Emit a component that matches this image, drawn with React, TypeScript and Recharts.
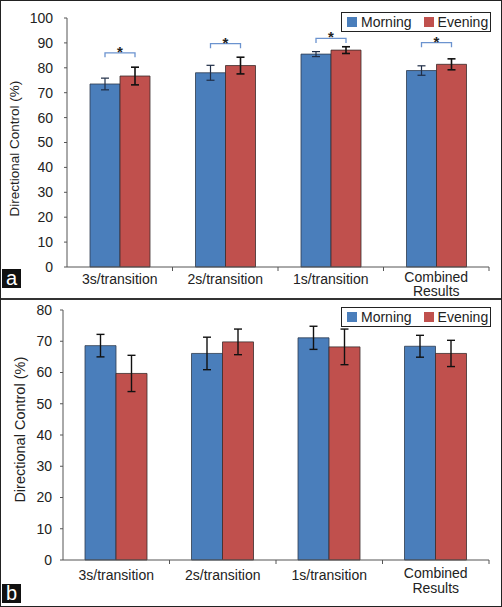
import React from "react";
import { BarChart, Bar, XAxis, YAxis, ErrorBar, Legend, LabelList } from "recharts";

const categories = ["3s/transition", "2s/transition", "1s/transition", "Combined Results"];
const seriesNames = ["Morning", "Evening"];

const morningA = [73.5, 78.0, 85.5, 78.9];
const eveningA = [76.7, 80.9, 87.1, 81.4];
const morningErrA = [2.35, 3.0, 1.0, 1.9];
const eveningErrA = [3.55, 3.35, 1.35, 2.2];
const bracketA = [86, 89.7, 91.8, 90.1];

const morningB = [68.6, 66.1, 71.1, 68.4];
const eveningB = [59.7, 69.8, 68.2, 66.1];
const morningErrB = [3.6, 5.2, 3.7, 3.5];
const eveningErrB = [5.8, 4.1, 5.7, 4.2];

const ticksA = [0, 10, 20, 30, 40, 50, 60, 70, 80, 90, 100];
const ticksB = [0, 10, 20, 30, 40, 50, 60, 70, 80];

const dataA = categories.map((c, i) => ({
  name: c,
  morning: morningA[i],
  evening: eveningA[i],
  morningErr: morningErrA[i],
  eveningErr: eveningErrA[i],
  bracket: bracketA[i],
}));

const dataB = categories.map((c, i) => ({
  name: c,
  morning: morningB[i],
  evening: eveningB[i],
  morningErr: morningErrB[i],
  eveningErr: eveningErrB[i],
}));

const FONT = "'Liberation Sans', Arial, Helvetica, sans-serif";
const BLUE = "#4a7ebb";
const RED = "#c0504d";
const TEXT = "#222";
const AXIS = "#555";

const makeXTick = (baseline: number, lineH: number) => (props: any) => {
  const { x, y, payload } = props;
  const lines = String(payload.value).split(" ");
  const off = payload.offset || 0;
  const first = lines.length > 1 ? baseline - 2 : baseline;
  return (
    <g>
      {off ? <line x1={x + off} x2={x + off} y1={y} y2={y + 4} stroke={AXIS} strokeWidth={1} /> : null}
      <text x={x} y={y + first} textAnchor="middle" fontSize={14} fill={TEXT} fontFamily={FONT}>
        {lines.map((l, i) => (
          <tspan key={i} x={x} dy={i === 0 ? 0 : lineH}>
            {l}
          </tspan>
        ))}
      </text>
    </g>
  );
};

const makeYLabel = (cx: number, cy: number, fs: number) => () => (
  <text
    x={cx}
    y={cy}
    transform={`rotate(-90 ${cx} ${cy})`}
    textAnchor="middle"
    dominantBaseline="central"
    fontSize={fs}
    fill={TEXT}
    fontFamily={FONT}
  >
    Directional Control (%)
  </text>
);

const LegendBox = (props: any) => {
  const items = [...(props.payload || [])].sort(
    (a: any, b: any) => seriesNames.indexOf(a.value) - seriesNames.indexOf(b.value)
  );
  return (
    <div
      style={{
        boxSizing: "border-box",
        width: 150,
        height: 20,
        border: "1.5px solid #222",
        background: "#fff",
        display: "flex",
        alignItems: "center",
        paddingLeft: 5,
        fontFamily: FONT,
        fontSize: 14,
        color: TEXT,
      }}
    >
      {items.map((it: any, i: number) => (
        <div key={i} style={{ display: "flex", alignItems: "center", marginLeft: i === 0 ? 0 : 12 }}>
          <span style={{ display: "inline-block", width: 10, height: 10, background: it.color, marginRight: 4 }} />
          <span style={{ lineHeight: "14px" }}>{it.value}</span>
        </div>
      ))}
    </div>
  );
};

const BracketLabel = (props: any) => {
  const { x, y, width, height, value, index } = props;
  const val = dataA[index].evening;
  const bx = Number(x);
  const by = Number(y);
  const bw = Number(width);
  const bh = Number(height);
  const pxPerUnit = bh / val;
  const lineY = by + bh - Number(value) * pxPerUnit;
  const x1 = bx - bw / 2;
  const x2 = bx + bw / 2;
  return (
    <g>
      <path
        d={`M${x1},${lineY + 4.5} L${x1},${lineY} L${x2},${lineY} L${x2},${lineY + 4.5}`}
        fill="none"
        stroke="#6b93cf"
        strokeWidth={1.3}
      />
      <text x={(x1 + x2) / 2} y={lineY + 4} textAnchor="middle" fontSize={15} fontWeight="bold" fill={TEXT} fontFamily={FONT}>
        *
      </text>
    </g>
  );
};

const PanelTag = ({ top, label }: { top: number; label: string }) => (
  <div
    style={{
      position: "absolute",
      left: 2,
      top,
      width: 19,
      height: 19,
      background: "#111",
      color: "#fff",
      fontFamily: FONT,
      fontSize: 20,
      lineHeight: "18px",
      textAlign: "center",
    }}
  >
    {label}
  </div>
);

export default function App() {
  return (
    <div style={{ position: "absolute", left: 0, top: 0, width: 502, height: 607, background: "#fff", overflow: "hidden" }}>
      <div style={{ position: "absolute", left: 0, top: 0 }}>
        <BarChart
          width={502}
          height={298}
          data={dataA}
          margin={{ top: 18, right: 13, left: 17, bottom: 3 }}
          barGap={0}
        >
          <XAxis
            dataKey="name"
            height={28}
            tickSize={0}
            tickMargin={0}
            tickLine={false}
            axisLine={{ stroke: AXIS }}
            interval={0}
            tick={makeXTick(16.5, 14.5)}
          />
          <YAxis
            width={50}
            domain={[0, 100]}
            ticks={ticksA}
            interval={0}
            tickSize={3}
            tickMargin={11}
            axisLine={{ stroke: AXIS }}
            tickLine={{ stroke: AXIS }}
            tick={{ fontSize: 14, fill: TEXT, fontFamily: FONT }}
            label={makeYLabel(15, 148.7, 13.5)}
          />
          <Legend
            layout="horizontal"
            verticalAlign="middle"
            align="center"
            wrapperStyle={{ top: 11.5, left: 341, width: 150, height: 20 }}
            content={LegendBox}
          />
          <Bar dataKey="morning" name="Morning" fill={BLUE} stroke="#2e3b4e" strokeWidth={0.8} barSize={30} isAnimationActive={false}>
            <ErrorBar dataKey="morningErr" width={4} stroke="#1f2d46" strokeWidth={1.2} />
          </Bar>
          <Bar dataKey="evening" name="Evening" fill={RED} stroke="#3a2b2b" strokeWidth={0.8} barSize={30} isAnimationActive={false}>
            <ErrorBar dataKey="eveningErr" width={4} stroke="#111" strokeWidth={1.6} />
            <LabelList dataKey="bracket" content={BracketLabel} />
          </Bar>
        </BarChart>
      </div>
      <div style={{ position: "absolute", left: 0, top: 300 }}>
        <BarChart
          width={502}
          height={307}
          data={dataB}
          margin={{ top: 10, right: 13, left: 13, bottom: 17 }}
          barGap={0}
        >
          <XAxis
            dataKey="name"
            height={30}
            tickSize={0}
            tickMargin={0}
            tickLine={false}
            axisLine={{ stroke: AXIS }}
            interval={0}
            tick={makeXTick(20.3, 14.5)}
          />
          <YAxis
            width={50}
            domain={[0, 80]}
            ticks={ticksB}
            interval={0}
            tickSize={3}
            tickMargin={8}
            axisLine={{ stroke: AXIS }}
            tickLine={{ stroke: AXIS }}
            tick={{ fontSize: 14, fill: TEXT, fontFamily: FONT }}
            label={makeYLabel(20, 129.7, 14.5)}
          />
          <Legend
            layout="horizontal"
            verticalAlign="middle"
            align="center"
            wrapperStyle={{ top: 6.5, left: 341, width: 150, height: 20 }}
            content={LegendBox}
          />
          <Bar dataKey="morning" name="Morning" fill={BLUE} stroke="#2e3b4e" strokeWidth={0.8} barSize={31} isAnimationActive={false}>
            <ErrorBar dataKey="morningErr" width={4} stroke="#111" strokeWidth={1.4} />
          </Bar>
          <Bar dataKey="evening" name="Evening" fill={RED} stroke="#3a2b2b" strokeWidth={0.8} barSize={31} isAnimationActive={false}>
            <ErrorBar dataKey="eveningErr" width={4} stroke="#111" strokeWidth={1.4} />
          </Bar>
        </BarChart>
      </div>
      <PanelTag top={269} label="a" />
      <PanelTag top={584} label="b" />
      <div style={{ position: "absolute", left: 0, top: 298, width: 502, height: 1.5, background: "#333" }} />
      <div
        style={{
          position: "absolute",
          left: 0,
          top: 0,
          width: 502,
          height: 607,
          boxSizing: "border-box",
          border: "1.5px solid #222",
          pointerEvents: "none",
        }}
      />
    </div>
  );
}
